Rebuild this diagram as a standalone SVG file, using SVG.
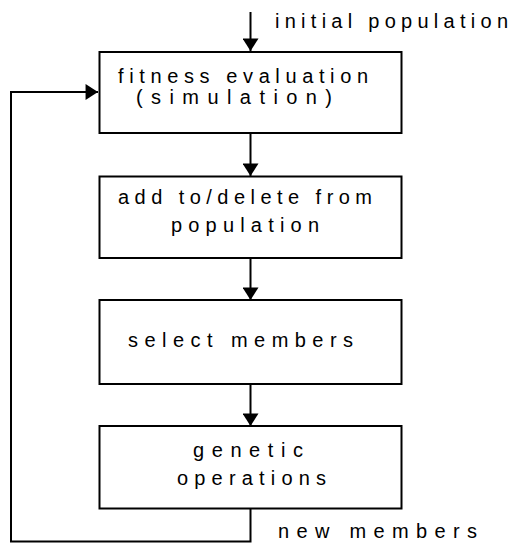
<svg xmlns="http://www.w3.org/2000/svg" width="516" height="544" viewBox="0 0 516 544">
<style>
.box{fill:#fff;stroke:#000;stroke-width:2}
.ln{fill:none;stroke:#000;stroke-width:2}
text{font-family:"Liberation Sans",Arial,sans-serif;font-size:20px;fill:#000}
</style>
<defs>
<marker id="ah" markerUnits="userSpaceOnUse" markerWidth="20" markerHeight="16" refX="14" refY="9" orient="auto" viewBox="0 0 14 18">
<path d="M0,0 L14,9 L0,18 Z" fill="#000"/>
</marker>
</defs>
<rect width="516" height="544" fill="#fff"/>
<g id="connectors">
<line class="ln" x1="250.5" y1="12" x2="250.5" y2="51" marker-end="url(#ah)"/>
<line class="ln" x1="250.5" y1="133" x2="250.5" y2="176" marker-end="url(#ah)"/>
<line class="ln" x1="250.5" y1="258" x2="250.5" y2="300" marker-end="url(#ah)"/>
<line class="ln" x1="250.5" y1="384" x2="250.5" y2="426" marker-end="url(#ah)"/>
<polyline class="ln" points="250.5,508 250.5,541.5 11,541.5 11,92 98,92" marker-end="url(#ah)"/>
<text x="275" y="28" textLength="233" lengthAdjust="spacing">initial population</text>
<text x="278" y="538" textLength="199" lengthAdjust="spacing">new members</text>
</g>
<g id="fitness">
<rect class="box" x="99.5" y="52" width="302" height="81"/>
<text x="118" y="83" textLength="250" lengthAdjust="spacing">fitness evaluation</text>
<text x="136" y="104" textLength="196" lengthAdjust="spacing">(simulation)</text>
</g>
<g id="adddelete">
<rect class="box" x="99.5" y="176.5" width="302" height="81.5"/>
<text x="118" y="204" textLength="254" lengthAdjust="spacing">add to/delete from</text>
<text x="171" y="232" textLength="148" lengthAdjust="spacing">population</text>
</g>
<g id="select">
<rect class="box" x="99.5" y="300" width="302" height="84"/>
<text x="128" y="347" textLength="225" lengthAdjust="spacing">select members</text>
</g>
<g id="genetic">
<rect class="box" x="99.5" y="426" width="302" height="82.5"/>
<text x="193" y="457" textLength="110" lengthAdjust="spacing">genetic</text>
<text x="177" y="485" textLength="149" lengthAdjust="spacing">operations</text>
</g>
</svg>
